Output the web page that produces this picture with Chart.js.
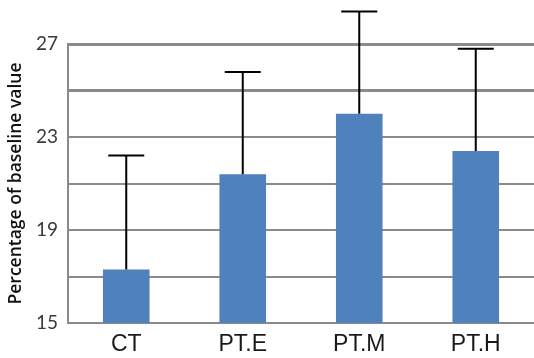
<!DOCTYPE html>
<html>
<head>
<meta charset="utf-8">
<script src="https://cdn.jsdelivr.net/npm/chart.js@4/dist/chart.umd.min.js"></script>
<style>
html,body{margin:0;padding:0;background:#fff;}
#wrap{width:534px;height:358px;position:relative;}
</style>
</head>
<body>
<div id="wrap"><canvas id="c"></canvas></div>
<script>
const categories = ['CT', 'PT.E', 'PT.M', 'PT.H'];
const meanValues = [17.3, 21.4, 24.0, 22.4];
const upperErrorValues = [22.2, 25.8, 28.4, 26.8];
const yTickLabels = [15, 19, 23, 27];

const errorBarPlugin = {
  id: 'errorBars',
  afterDatasetsDraw(chart) {
    const ctx = chart.ctx;
    const meta = chart.getDatasetMeta(0);
    const y = chart.scales.y;
    ctx.save();
    ctx.strokeStyle = '#000';
    ctx.lineWidth = 2;
    meta.data.forEach((bar, i) => {
      const top = y.getPixelForValue(upperErrorValues[i]);
      const base = y.getPixelForValue(meanValues[i]);
      ctx.beginPath();
      ctx.moveTo(bar.x, base);
      ctx.lineTo(bar.x, top);
      ctx.moveTo(bar.x - 18, top);
      ctx.lineTo(bar.x + 18, top);
      ctx.stroke();
    });
    ctx.restore();
  }
};

new Chart(document.getElementById('c'), {
  type: 'bar',
  data: {
    labels: categories,
    datasets: [{
      data: meanValues,
      backgroundColor: '#4f81bd',
      borderWidth: 0,
      categoryPercentage: 0.8,
      barPercentage: 0.5
    }]
  },
  options: {
    responsive: true,
    maintainAspectRatio: false,
    animation: false,
    layout: { padding: { top: 44, right: 0, left: 6, bottom: 0 } },
    plugins: { legend: { display: false }, tooltip: { enabled: false } },
    scales: {
      x: {
        grid: { display: false, drawTicks: false },
        border: { display: true, color: '#8a8a8a', width: 2 },
        ticks: {
          color: '#1a1a1a',
          font: { family: 'Liberation Sans', size: 23 },
          padding: 8
        },
        afterFit(s) { s.height = 35; }
      },
      y: {
        min: 15,
        max: 27,
        grid: {
          color: '#8a8a8a',
          lineWidth: (c) => (c.tick && (c.tick.value === 27 || c.tick.value === 25)) ? 3 : 2,
          drawTicks: false
        },
        border: { display: true, color: '#8a8a8a', width: 2 },
        ticks: {
          stepSize: 2,
          color: '#3a3a3a',
          font: { family: 'Lato', size: 19 },
          padding: 10,
          callback: (v) => yTickLabels.includes(v) ? String(v) : ''
        },
        title: {
          display: true,
          text: 'Percentage of baseline value',
          color: '#111',
          font: { family: 'Open Sans', size: 17.5, weight: '600' },
          padding: { top: 0, bottom: 0 }
        },
        afterFit(s) { s.width = 62; }
      }
    }
  },
  plugins: [errorBarPlugin]
});
</script>
</body>
</html>
